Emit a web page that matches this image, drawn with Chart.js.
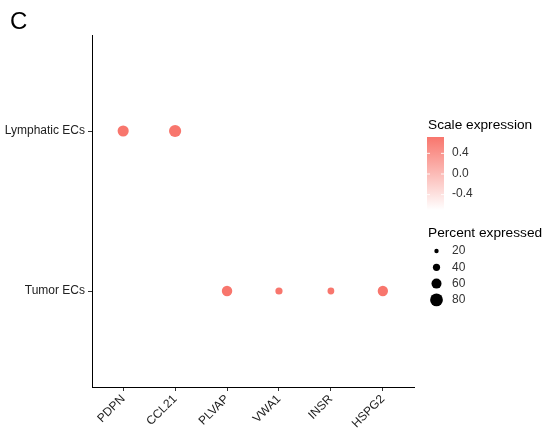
<!DOCTYPE html>
<html>
<head>
<meta charset="utf-8">
<script src="https://cdn.jsdelivr.net/npm/chart.js@4"></script>
<style>
  html, body { margin: 0; padding: 0; background: #fff; }
  #wrap { width: 542px; height: 431px; }
</style>
</head>
<body>
<div id="wrap"><canvas id="myChart" width="542" height="431"></canvas></div>
<script>
const genes = ['PDPN', 'CCL21', 'PLVAP', 'VWA1', 'INSR', 'HSPG2'];
const cellTypes = ['Tumor ECs', 'Lymphatic ECs'];

// one entry per visible dot
const dotGene = ['PDPN', 'CCL21', 'PLVAP', 'VWA1', 'INSR', 'HSPG2'];
const dotCell = ['Lymphatic ECs', 'Lymphatic ECs', 'Tumor ECs', 'Tumor ECs', 'Tumor ECs', 'Tumor ECs'];
const dotPct = [68, 76, 63, 40, 37, 62];
const dotExpr = [0.707, 0.707, 0.707, 0.707, 0.707, 0.707];

const exprTicks = [0.4, 0.0, -0.4];
const pctTicks = [20, 40, 60, 80];

const exprMin = -0.707, exprMax = 0.707;
const highCol = [248, 118, 109];

function exprColor(v) {
    const t = (v - exprMin) / (exprMax - exprMin);
    const c = highCol.map(h => Math.round(255 + (h - 255) * t));
    return `rgb(${c[0]},${c[1]},${c[2]})`;
}

function pctRadius(p) {
    return 0.07 * p + 0.8;
}

const points = dotGene.map((g, i) => ({ x: genes.indexOf(g), y: cellTypes.indexOf(dotCell[i]) }));

const font = "'Liberation Sans', Arial, sans-serif";

const legendPlugin = {
    id: 'legendPlugin',
    afterDraw(chart) {
        const ctx = chart.ctx;
        ctx.save();
        // panel tag
        ctx.fillStyle = '#000';
        ctx.font = `24px ${font}`;
        ctx.textBaseline = 'alphabetic';
        ctx.textAlign = 'left';
        ctx.fillText('C', 10, 29);

        // colour bar
        const bx = 427, bw = 17, top = 137, bottom = 210;
        const grad = ctx.createLinearGradient(0, bottom, 0, top);
        grad.addColorStop(0, exprColor(exprMin));
        grad.addColorStop(1, exprColor(exprMax));
        ctx.fillStyle = grad;
        ctx.fillRect(bx, top, bw, bottom - top);

        ctx.fillStyle = '#000';
        ctx.font = `13.7px ${font}`;
        ctx.fillText('Scale expression', 428, 129);

        ctx.font = `12px ${font}`;
        ctx.textBaseline = 'middle';
        exprTicks.forEach(v => {
            const y = bottom - (v - exprMin) / (exprMax - exprMin) * (bottom - top);
            ctx.strokeStyle = 'rgba(255,255,255,0.9)';
            ctx.lineWidth = 1;
            ctx.beginPath();
            ctx.moveTo(bx, y + 0.5); ctx.lineTo(bx + 3, y + 0.5);
            ctx.moveTo(bx + bw - 3, y + 0.5); ctx.lineTo(bx + bw, y + 0.5);
            ctx.stroke();
            ctx.fillStyle = '#333';
            ctx.fillText(v.toFixed(1), 452, y);
        });

        // size legend
        ctx.fillStyle = '#000';
        ctx.textBaseline = 'alphabetic';
        ctx.font = `13.7px ${font}`;
        ctx.fillText('Percent expressed', 428, 237);

        ctx.font = `12px ${font}`;
        pctTicks.forEach((p, i) => {
            const y = 251 + i * 16.3;
            ctx.fillStyle = '#000';
            ctx.beginPath();
            ctx.arc(436.5, y, pctRadius(p), 0, Math.PI * 2);
            ctx.fill();
            ctx.fillStyle = '#333';
            ctx.textBaseline = 'middle';
            ctx.fillText(String(p), 452, y);
        });
        ctx.restore();
    }
};

document.addEventListener('DOMContentLoaded', function () {
    const canvas = document.getElementById('myChart');

    new Chart(canvas, {
        type: 'scatter',
        data: {
            datasets: [{
                data: points,
                pointRadius: dotPct.map(pctRadius),
                pointHoverRadius: dotPct.map(pctRadius),
                pointBackgroundColor: dotExpr.map(exprColor),
                pointBorderWidth: 0,
                borderWidth: 0
            }]
        },
        options: {
            responsive: false,
            animation: false,
            layout: {
                padding: { left: 0, top: 35, right: 128, bottom: 0 }
            },
            scales: {
                x: {
                    type: 'linear',
                    min: -0.6,
                    max: 5.6,
                    afterBuildTicks: axis => {
                        axis.ticks = genes.map((_, i) => ({ value: i }));
                    },
                    afterFit: scale => { scale.height = 44; },
                    ticks: {
                        autoSkip: false,
                        maxRotation: 45,
                        minRotation: 45,
                        padding: 1,
                        color: '#222',
                        font: { family: font, size: 12 },
                        callback: v => genes[v]
                    },
                    grid: {
                        drawOnChartArea: false,
                        tickLength: 4,
                        color: '#333'
                    },
                    border: { color: '#000', width: 1 }
                },
                y: {
                    type: 'linear',
                    min: -0.6,
                    max: 1.6,
                    afterBuildTicks: axis => {
                        axis.ticks = cellTypes.map((_, i) => ({ value: i }));
                    },
                    afterFit: scale => { scale.width = 92; },
                    ticks: {
                        autoSkip: false,
                        padding: 3,
                        color: '#222',
                        font: { family: font, size: 12 },
                        callback: v => cellTypes[v]
                    },
                    grid: {
                        drawOnChartArea: false,
                        tickLength: 4,
                        color: '#333'
                    },
                    border: { color: '#000', width: 1 }
                }
            },
            plugins: {
                legend: { display: false },
                tooltip: { enabled: false }
            }
        },
        plugins: [legendPlugin]
    });
});
</script>
</body>
</html>
